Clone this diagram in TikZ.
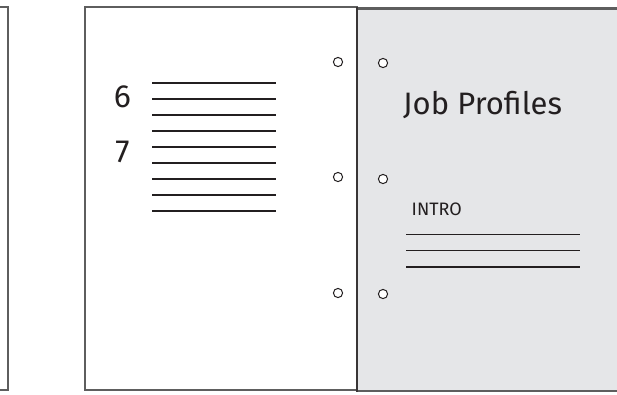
\documentclass[tikz,border=0pt]{standalone}
\usepackage{fontspec}
\setmainfont{Fira Sans}
\definecolor{frame}{HTML}{5E5E5E}
\definecolor{sheet}{HTML}{E5E6E8}
\definecolor{ink}{HTML}{231F20}

\begin{document}
\begin{tikzpicture}[x=1pt,y=-1pt,page/.style={draw=frame,line width=1.2pt},hole/.style={draw=ink,fill=white,line width=1pt},rule/.style={draw=ink,line width=1.1pt},lbl/.style={text=ink,inner sep=0pt}]
\useasboundingbox (0,0) rectangle (617,394);
% left page, only its edge shows
\draw[page] (0,7)--(8,7)--(8,390)--(0,390);
% open page with the numbered lines
\draw[page,fill=white] (85,7) rectangle (357,390);
\foreach \y in {83,99,...,211} \draw[rule] (152,\y)--(276,\y);
\node[lbl,font=\fontsize{32}{32}\selectfont] (six) at (122.5,97) {6};
\node[lbl,font=\fontsize{32}{32}\selectfont] (seven) at (122.5,152) {7};
% grey divider page
\fill[sheet] (357,8) rectangle (617,391);
\draw[frame,line width=1.5pt] (357,391)--(617,391);
\draw[frame,line width=2.6pt] (357,8.3)--(617,8.3);
\draw[ink!90,line width=2.6pt] (357,7)--(357,392);
\node[lbl,anchor=base west,font=\fontsize{31}{31}\selectfont] (title) at (403,114) {Job Profiles};
\node[lbl,anchor=base west,font=\fontsize{18}{18}\selectfont] (intro) at (411.5,215) {INTRO};
\foreach \y in {234.3,250.7,267} \draw[rule] (406,\y)--(580,\y);
% punched holes
\foreach \y in {62,177,293} \draw[hole] (338,\y) circle (4.6);
\foreach \y in {63,179,294} \draw[hole] (383,\y) circle (4.6);
\end{tikzpicture}
\end{document}
